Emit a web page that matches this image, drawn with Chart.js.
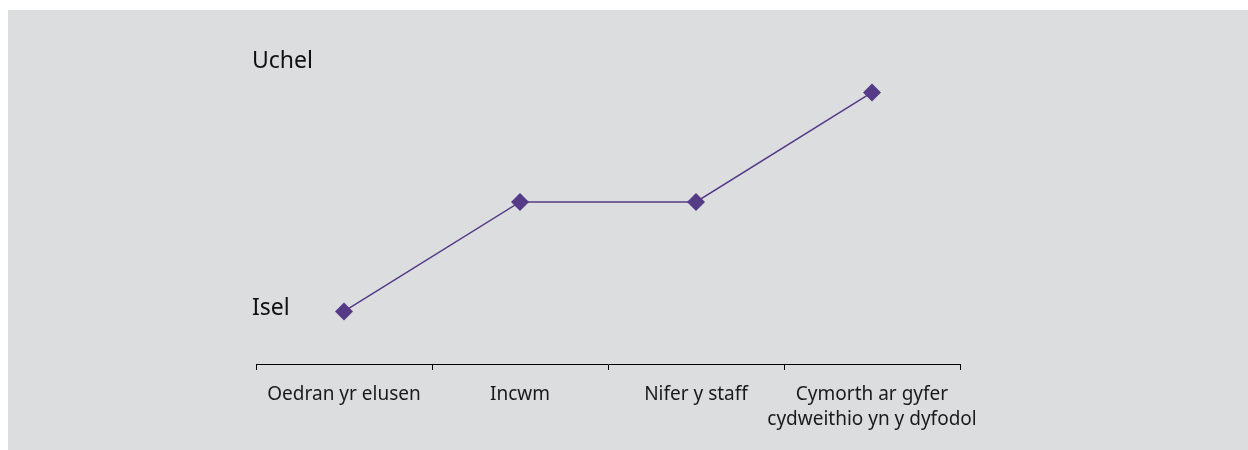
<!DOCTYPE html>
<html>
<head>
<meta charset="utf-8">
<script src="https://cdn.jsdelivr.net/npm/chart.js@4/dist/chart.umd.min.js"></script>
<style>
    body { margin: 0; background: #ffffff; }
    .panel { position: absolute; left: 8px; top: 10px; width: 1240px; height: 440px; background: #dcdddf; }
</style>
</head>
<body>
<div class="panel"><canvas id="grafica" width="1240" height="440"></canvas></div>
<script>
let categorias = ['Oedran yr elusen', 'Incwm', 'Nifer y staff', ['Cymorth ar gyfer', 'cydweithio yn y dyfodol']];
let valores = [1, 2, 2, 3];
let valoresEtiquetaY = [1.03, 3.28];
let etiquetasY = ['Isel', 'Uchel'];
let colorLinea = '#553a87';

let ctx = document.getElementById('grafica');

const config = {
    type: 'line',
    data: {
        labels: categorias,
        datasets: [{
            data: valores,
            borderColor: colorLinea,
            backgroundColor: colorLinea,
            borderWidth: 1.5,
            tension: 0,
            pointStyle: 'rectRot',
            pointRadius: 9,
            pointBorderWidth: 0
        }]
    },
    options: {
        responsive: false,
        animation: false,
        layout: {
            padding: { left: 248, right: 288, top: 27.7, bottom: 0 }
        },
        plugins: {
            legend: { display: false },
            tooltip: { enabled: false }
        },
        scales: {
            x: {
                offset: true,
                grid: {
                    offset: true,
                    drawOnChartArea: false,
                    drawTicks: true,
                    tickLength: 6,
                    color: '#000000',
                    lineWidth: 1
                },
                border: { display: true, color: '#000000', width: 1 },
                ticks: {
                    color: '#1a1a1a',
                    padding: 12,
                    maxRotation: 0,
                    autoSkip: false,
                    font: { family: 'Noto Sans', size: 19, lineHeight: 1.32 }
                },
                afterFit: (scale) => { scale.height = 86; }
            },
            y: {
                min: 0.52,
                max: 3.5,
                grid: { display: false, drawTicks: false },
                border: { display: false },
                afterBuildTicks: (scale) => {
                    scale.ticks = valoresEtiquetaY.map(v => ({ value: v }));
                },
                ticks: {
                    mirror: true,
                    padding: -4,
                    color: '#111111',
                    font: { family: 'Noto Sans', size: 23 },
                    callback: (valor, i) => etiquetasY[i]
                },
                afterFit: (scale) => { scale.width = 0; }
            }
        }
    }
};
new Chart(ctx, config);
</script>
</body>
</html>
